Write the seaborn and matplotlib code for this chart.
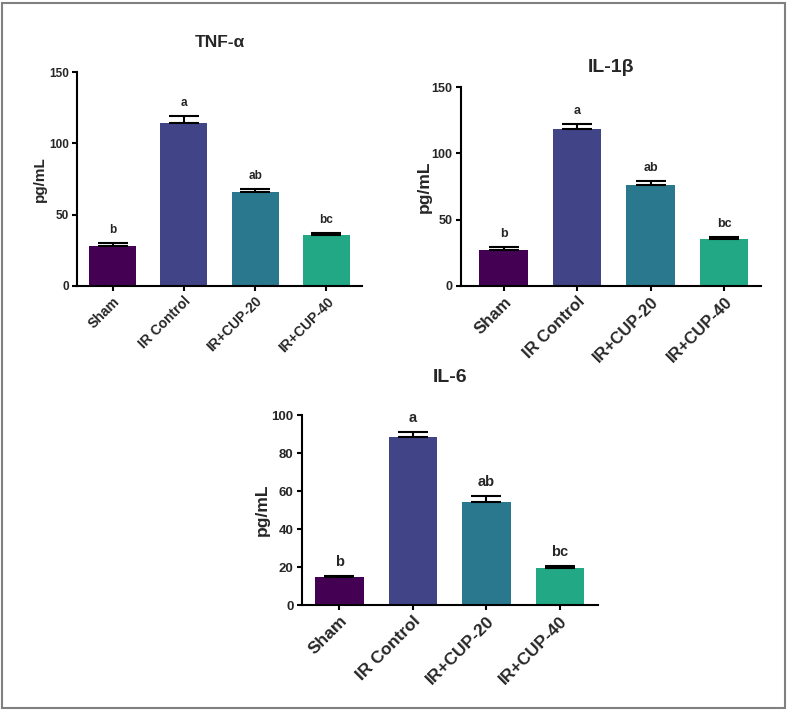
import numpy as np
import pandas as pd
import matplotlib
matplotlib.use("Agg")
import matplotlib.pyplot as plt
import seaborn as sns
from matplotlib.patches import Rectangle

sns.set_theme(style="ticks")
plt.rcParams['font.family'] = ['Liberation Sans', 'DejaVu Sans']
plt.rcParams['font.weight'] = 'bold'

groups = ["Sham", "IR Control", "IR+CUP-20", "IR+CUP-40"]
colors = ["#440154", "#414487", "#2A788E", "#22A884"]

tnf_mean = [28.2, 114.4, 65.9, 35.8]
tnf_err = [2.0, 4.8, 2.3, 1.5]
il1b_mean = [27.5, 118.2, 76.1, 35.5]
il1b_err = [2.0, 3.6, 2.8, 1.5]
il6_mean = [14.7, 88.6, 54.4, 19.4]
il6_err = [0.8, 2.4, 3.2, 1.0]
letters = ["b", "a", "ab", "bc"]

W, H = 787, 710
fig = plt.figure(figsize=(W / 100, H / 100), dpi=100)
fig.patch.set_facecolor("white")
fig.add_artist(Rectangle((2 / W, 2 / H), 783 / W, 705 / H, transform=fig.transFigure,
                         fill=False, edgecolor="#808080", linewidth=1.5))


def panel(rect, means, errs, title, ylim, yticks, xlim, fs_tick_y, fs_tick_x,
          fs_ylab, fs_title, fs_let, title_pad, labelpad):
    l, r, t, b = rect
    ax = fig.add_axes([l / W, (H - b) / H, (r - l) / W, (b - t) / H])
    df = pd.DataFrame({"group": groups, "value": means})
    sns.barplot(data=df, x="group", y="value", hue="group", palette=colors,
                order=groups, hue_order=groups, legend=False, width=0.66,
                errorbar=None, saturation=1, ax=ax, linewidth=0)
    x = np.arange(len(groups))
    ax.errorbar(x, means, yerr=[np.zeros(len(errs)), errs], fmt="none",
                ecolor="black", elinewidth=1.5, capsize=11, capthick=1.5, zorder=3)
    for xi, m, e, lt in zip(x, means, errs, letters):
        ax.annotate(lt, (xi, m + e), xytext=(0, 5), textcoords="offset points",
                    ha="center", va="bottom", fontsize=fs_let, fontweight="bold")
    ax.set_ylim(*ylim)
    ax.set_yticks(yticks)
    ax.set_xlim(*xlim)
    ax.set_xlabel("")
    ax.set_ylabel("pg/mL", fontsize=fs_ylab, fontweight="bold", labelpad=labelpad)
    ax.set_title(title, fontsize=fs_title, fontweight="bold", pad=title_pad)
    sns.despine(ax=ax)
    for s in ["left", "bottom"]:
        ax.spines[s].set_linewidth(1.5)
        ax.spines[s].set_color("black")
    ax.tick_params(axis="both", width=1.5, length=3.5, pad=2.5, color="black")
    ax.tick_params(axis="y", labelsize=fs_tick_y)
    ax.set_xticks(x)
    ax.set_xticklabels(groups, rotation=45, ha="right", rotation_mode="anchor",
                       fontsize=fs_tick_x, fontweight="bold")
    for lab in ax.get_yticklabels():
        lab.set_fontweight("bold")
    return ax


panel((77, 362, 72, 286), tnf_mean, tnf_err, "TNF-α", (0, 150), [0, 50, 100, 150],
      (-0.5, 3.5), 8.5, 10, 11, 12.5, 8.5, 18, 1)
panel((461, 761, 87, 286), il1b_mean, il1b_err, "IL-1β", (0, 150), [0, 50, 100, 150],
      (-0.58, 3.5), 9, 12, 12.5, 14, 9, 11, 0)
panel((302, 598, 415, 605), il6_mean, il6_err, "IL-6", (0, 100), [0, 20, 40, 60, 80, 100],
      (-0.51, 3.52), 9.5, 12.5, 12.5, 14, 10.5, 24, 1)

fig.savefig("out.png", dpi=100, facecolor="white")
